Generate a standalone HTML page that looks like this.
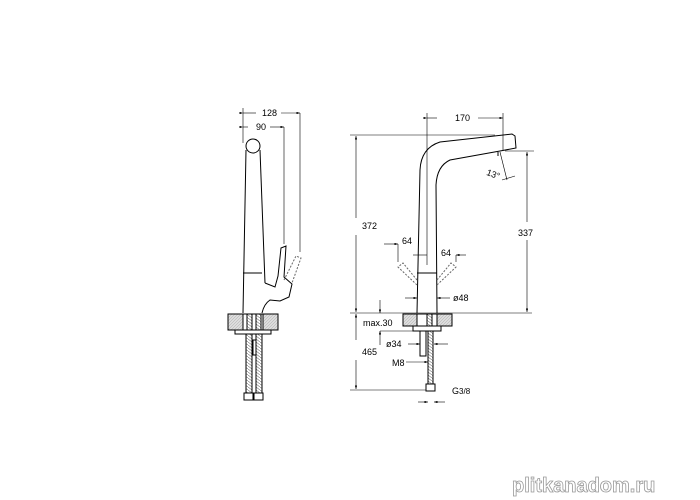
<!DOCTYPE html>
<html><head><style>
html,body{margin:0;padding:0;background:#fff;}
svg{display:block;font-family:"Liberation Sans",sans-serif;}
</style></head><body>
<svg width="700" height="500" viewBox="0 0 700 500" xmlns="http://www.w3.org/2000/svg">
<defs>
<pattern id="h" width="3" height="3" patternUnits="userSpaceOnUse"><rect width="3" height="3" fill="#ddd"/><path d="M0 3L3 0" stroke="#aaa" stroke-width="0.5"/></pattern>
<pattern id="p" width="4" height="3" patternUnits="userSpaceOnUse"><rect width="4" height="3" fill="#fff"/><path d="M0 0L4 3" stroke="#777" stroke-width="0.6"/></pattern>
<marker id="a" markerWidth="6" markerHeight="4" refX="6" refY="2" orient="auto"><path d="M0 0L6 2L0 4z" fill="#000"/></marker>
</defs>
<g stroke="#000" fill="none" stroke-width="1">
<circle cx="253" cy="146" r="7"/>
<path d="M246 150 L243 313 M260 150 L265 283"/>
<line x1="243" y1="273" x2="262" y2="273"/>
<path d="M265 283 L275 287 L278 276 L281 248 L286 246 L284 277 L292 284 L289 297 L280 301 L270 300 Q264 304 262 313"/>
<path d="M284 280 L296 256 L301 258 L292 283" stroke-dasharray="2,1.5" stroke="#666"/>
<rect x="228" y="314" width="50" height="16" fill="url(#h)"/>
<rect x="243" y="314" width="20" height="16" fill="#fff"/>
<rect x="247" y="314" width="5" height="16" fill="url(#p)"/>
<rect x="256" y="314" width="5" height="16" fill="url(#p)"/>
<rect x="235" y="330" width="36" height="4" fill="#fff"/>
<rect x="246" y="334" width="6" height="59" fill="url(#p)"/>
<rect x="256" y="334" width="6" height="59" fill="url(#p)"/>
<rect x="253" y="340" width="3" height="15" fill="#fff"/>
<rect x="244" y="393" width="9" height="7" fill="#fff"/>
<rect x="254" y="393" width="9" height="7" fill="#fff"/>
<g stroke-width="0.6">
<line x1="243" y1="108" x2="243" y2="143"/>
<line x1="300" y1="113" x2="300" y2="252"/>
<line x1="284" y1="127" x2="284" y2="244"/>
<line x1="243" y1="113" x2="256" y2="113" marker-start="url(#a)"/><line x1="281" y1="113" x2="300" y2="113" marker-end="url(#a)"/>
<line x1="243" y1="127" x2="248" y2="127" marker-start="url(#a)"/><line x1="270" y1="127" x2="284" y2="127" marker-end="url(#a)"/>
</g>
<path d="M417 313 L420 170 Q421 148 440 142 L512 134 L515 136 L516 148 L500 151 L450 160 Q437 166 436 185 L437 313"/>
<path d="M498 152 L498 156 M417 273 L437 273"/>
<path d="M417 280 L403 263 L398 267 L417 285 M437 280 L451 263 L456 267 L437 285" stroke-dasharray="2,1.5" stroke="#666"/>
<rect x="403" y="314" width="49" height="12" fill="url(#h)"/>
<rect x="417" y="314" width="20" height="12" fill="#fff"/>
<rect x="427" y="314" width="5" height="12" fill="url(#p)"/>
<rect x="413" y="326" width="28" height="5" fill="#fff"/>
<rect x="420" y="331" width="6" height="25" fill="#fff"/>
<rect x="428" y="331" width="5" height="53" fill="url(#p)"/>
<rect x="426" y="384" width="9" height="7" fill="#fff"/>
<g stroke-width="0.6">
<line x1="350" y1="135" x2="495" y2="135"/>
<line x1="350" y1="313" x2="532" y2="313"/>
<line x1="350" y1="390" x2="426" y2="390"/>
<line x1="356" y1="218" x2="356" y2="136" marker-end="url(#a)"/><line x1="356" y1="235" x2="356" y2="312" marker-end="url(#a)"/>
<line x1="356" y1="340" x2="356" y2="314" marker-end="url(#a)"/><line x1="356" y1="360" x2="356" y2="389" marker-end="url(#a)"/>
<line x1="427" y1="113" x2="427" y2="265"/>
<line x1="503" y1="113" x2="503" y2="150"/>
<line x1="427" y1="118" x2="437" y2="118" marker-start="url(#a)"/><line x1="478" y1="118" x2="503" y2="118" marker-end="url(#a)"/>
<line x1="505" y1="151" x2="534" y2="151"/>
<line x1="527" y1="222" x2="527" y2="152" marker-end="url(#a)"/><line x1="527" y1="240" x2="527" y2="312" marker-end="url(#a)"/>
<path d="M500 152 L507 180 M502 180 L515 176"/>
<line x1="398" y1="244" x2="398" y2="262"/><line x1="384" y1="244" x2="398" y2="244" marker-end="url(#a)"/>
<line x1="456" y1="255" x2="456" y2="262"/><line x1="466" y1="255" x2="456" y2="255" marker-end="url(#a)"/>
<line x1="413" y1="255" x2="427" y2="255"/>
<line x1="405" y1="298" x2="417" y2="298" marker-end="url(#a)"/><line x1="450" y1="298" x2="437" y2="298" marker-end="url(#a)"/>
<line x1="380" y1="300" x2="380" y2="313" marker-end="url(#a)"/><line x1="380" y1="345" x2="380" y2="331" marker-end="url(#a)"/>
<line x1="380" y1="331" x2="413" y2="331"/>
<line x1="408" y1="344" x2="420" y2="344" marker-end="url(#a)"/><line x1="448" y1="344" x2="434" y2="344" marker-end="url(#a)"/>
<line x1="406" y1="362" x2="428" y2="362" marker-end="url(#a)"/>
<line x1="418" y1="402" x2="428" y2="402" marker-end="url(#a)"/><line x1="445" y1="402" x2="434" y2="402" marker-end="url(#a)"/>
</g>
</g>
<g font-size="9" fill="#000">
<text x="262" y="116">128</text>
<text x="256" y="130">90</text>
<text x="455" y="121">170</text>
<text x="362" y="229">372</text>
<text x="362" y="355">465</text>
<text x="518" y="236">337</text>
<text x="487" y="176" transform="rotate(20 490 172)">13°</text>
<text x="402" y="244">64</text>
<text x="441" y="256">64</text>
<text x="453" y="301">ø48</text>
<text x="363" y="326">max.30</text>
<text x="386" y="347">ø34</text>
<text x="392" y="366">M8</text>
<text x="452" y="394">G<tspan font-size="8">3/8</tspan></text>
</g>
<text x="512" y="492" font-size="20" font-weight="bold" fill="#fff" stroke="#999" stroke-width="0.8" font-family="Liberation Sans,sans-serif">plitkanadom.ru</text>
</svg>
</body></html>
